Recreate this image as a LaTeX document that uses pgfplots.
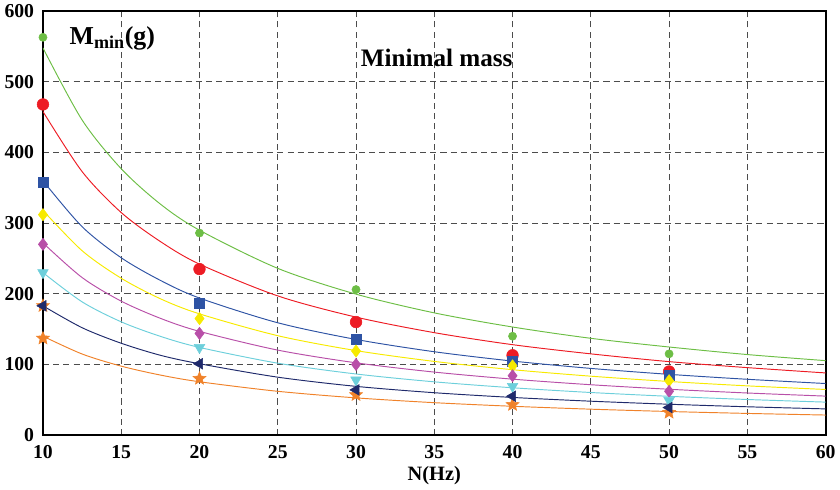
\documentclass[border=0pt]{standalone}
\usepackage{fontspec}
\setmainfont{Liberation Serif}
\usepackage{pgfplots}
\pgfplotsset{compat=1.18}
\usetikzlibrary{plotmarks}
\definecolor{cgreen}{HTML}{6DBE45}
\definecolor{cred}{HTML}{ED1C24}
\definecolor{cblue}{HTML}{2E53A4}
\definecolor{cyellow}{HTML}{F7EA00}
\definecolor{cmag}{HTML}{B84FA8}
\definecolor{ccyan}{HTML}{6DCFDB}
\definecolor{cnavy}{HTML}{1F2A6B}
\definecolor{corange}{HTML}{F0822A}
\pgfdeclareplotmark{fstar}{%
  \pgfpathmoveto{\pgfpointpolar{90}{\pgfplotmarksize}}%
  \pgfpathlineto{\pgfpointpolar{126}{0.45\pgfplotmarksize}}%
  \pgfpathlineto{\pgfpointpolar{162}{\pgfplotmarksize}}%
  \pgfpathlineto{\pgfpointpolar{198}{0.45\pgfplotmarksize}}%
  \pgfpathlineto{\pgfpointpolar{234}{\pgfplotmarksize}}%
  \pgfpathlineto{\pgfpointpolar{270}{0.45\pgfplotmarksize}}%
  \pgfpathlineto{\pgfpointpolar{306}{\pgfplotmarksize}}%
  \pgfpathlineto{\pgfpointpolar{342}{0.45\pgfplotmarksize}}%
  \pgfpathlineto{\pgfpointpolar{18}{\pgfplotmarksize}}%
  \pgfpathlineto{\pgfpointpolar{54}{0.45\pgfplotmarksize}}%
  \pgfpathclose
  \pgfusepathqfillstroke}
\begin{document}
\begin{tikzpicture}
\begin{axis}[
  width=576pt, height=312pt, scale only axis,
  xmin=10, xmax=60, ymin=0, ymax=600,
  xtick={10,15,...,60}, ytick={0,100,...,600},
  grid=major,
  major grid style={black!70, line width=0.6pt, dash pattern=on 4.5pt off 3pt},
  axis line style={line width=1.3pt},
  tick style={draw=none},
  ticklabel style={font=\fontsize{14.5}{16}\selectfont\bfseries},
  xticklabel style={yshift=-4pt},
  yticklabel style={xshift=-3pt},
  /pgf/number format/assume math mode=true,
  xlabel={N(Hz)},
  xlabel style={font=\fontsize{15}{17}\selectfont\bfseries, yshift=1pt},
  clip=true,
]
% fitted curves
\addplot[cgreen, line width=0.7pt, smooth] coordinates {(10,548)(12.5,446)(15,377)(17.5,327)(20,290)(25,236)(30,199.5)(35,173)(40,153)(45,137)(50,124.7)(55,114)(60,105.4)};
\addplot[cred, line width=0.7pt, smooth] coordinates {(10,458)(12.5,373)(15,315)(17.5,274)(20,242)(25,197)(30,167)(35,145)(40,128)(45,115)(50,104)(55,95.5)(60,88)};
\addplot[cblue, line width=0.7pt, smooth] coordinates {(10,360)(12.5,295)(15,251)(17.5,219)(20,194)(25,159)(30,135.4)(35,118)(40,104.8)(45,94.4)(50,86)(55,79)(60,73)};
\addplot[cyellow, line width=0.7pt, smooth] coordinates {(10,318)(12.5,261)(15,222)(17.5,193)(20,171.6)(25,140.7)(30,119.6)(35,104.3)(40,92.6)(45,83.4)(50,75.9)(55,69.7)(60,64.6)};
\addplot[cmag, line width=0.7pt, smooth] coordinates {(10,272)(12.5,223)(15,189.6)(17.5,165.3)(20,146.8)(25,120.3)(30,102.3)(35,89.2)(40,79.2)(45,71.3)(50,64.9)(55,59.6)(60,55.2)};
\addplot[ccyan, line width=0.7pt, smooth] coordinates {(10,230)(12.5,188.6)(15,160.3)(17.5,139.8)(20,124.1)(25,101.8)(30,86.5)(35,75.4)(40,67)(45,60.3)(50,54.9)(55,50.4)(60,46.7)};
\addplot[cnavy, line width=0.7pt, smooth] coordinates {(10,183)(12.5,152)(15,130)(17.5,113)(20,101)(25,82)(30,69)(35,60)(40,53.3)(45,48)(50,43.7)(55,40.1)(60,37.1)};
\addplot[corange, line width=0.7pt, smooth] coordinates {(10,140)(12.5,114.8)(15,97.6)(17.5,85)(20,75.5)(25,62)(30,52.7)(35,45.9)(40,40.8)(45,36.7)(50,33.4)(55,30.7)(60,28.4)};
% data points
\addplot[only marks, mark=*, mark size=3pt, color=cgreen] coordinates {(10,563)(20,286)(30,206)(40,140)(50,115)};
\addplot[only marks, mark=*, mark size=4.3pt, color=cred] coordinates {(10,468)(20,235)(30,160)(40,113)(50,90)};
\addplot[only marks, mark=square*, mark size=3.6pt, color=cblue] coordinates {(10,358)(20,187)(30,136)(40,104)(50,85)};
\addplot[only marks, mark=diamond*, mark size=4.5pt, color=cyellow] coordinates {(10,312)(20,165)(30,119)(40,98)(50,77)};
\addplot[only marks, mark=diamond*, mark size=4.5pt, color=cmag] coordinates {(10,270)(20,144)(30,100)(40,84)(50,62)};
\addplot[only marks, mark=triangle*, mark size=4.5pt, mark options={rotate=180}, color=ccyan] coordinates {(10,230)(20,124)(30,78)(40,69)(50,49)};
\addplot[only marks, mark=fstar, mark size=5pt, color=corange] coordinates {(10,183)(10,137)(20,80)(30,57)(40,43)(50,32)};
\addplot[only marks, mark=triangle*, mark size=4.5pt, mark options={rotate=90}, color=cnavy] coordinates {(10,183)(20,101)(30,64)(40,55)(50,39)};
\node[anchor=west, font=\fontsize{19}{22}\selectfont\bfseries] at (rel axis cs:0.028,0.936) {M\textsubscript{min}(g)};
\node[font=\fontsize{18.5}{21}\selectfont\bfseries] at (rel axis cs:0.503,0.889) {Minimal mass};
\end{axis}
\end{tikzpicture}
\end{document}
